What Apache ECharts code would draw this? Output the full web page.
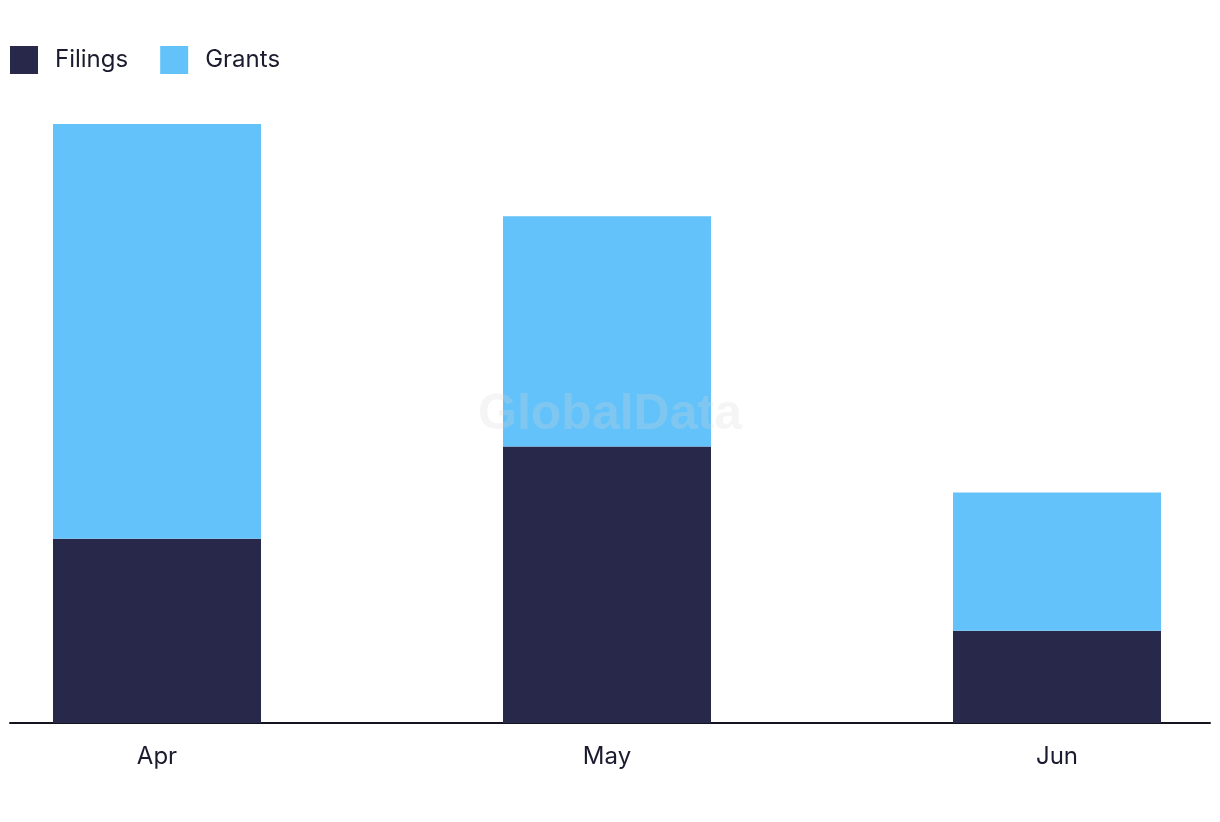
<!DOCTYPE html>
<html>
<head>
<meta charset="utf-8">
<script src="https://cdn.jsdelivr.net/npm/echarts@6/dist/echarts.min.js"></script>
<style>html,body{margin:0;padding:0;background:#fff}#c{width:1220px;height:822px}</style>
</head>
<body>
<div id="c"></div>
<script>
const categories = ['Apr', 'May', 'Jun'];
const filings = [4, 6, 2];
const grants = [9, 5, 3];
const seriesNames = ['Filings', 'Grants'];

const chart = echarts.init(document.getElementById('c'));
const font = 'Inter, "Noto Sans", sans-serif';
chart.setOption({
  animation: false,
  backgroundColor: '#fff',
  legend: {
    left: 10, top: 46, padding: 0, itemWidth: 28, itemHeight: 28, itemGap: 32, icon: 'rect',
    data: seriesNames,
    textStyle: { fontFamily: font, fontSize: 24, color: '#1b1b2f', padding: [0, 0, 0, 12] }
  },
  grid: [
    { left: -68, right: -62, top: 124, bottom: 99, outerBoundsMode: 'none', containLabel: false },
    { left: 10, right: 10, top: 124, bottom: 99, outerBoundsMode: 'none', containLabel: false }
  ],
  xAxis: [
    { type: 'category', gridIndex: 0, data: categories,
      axisLine: { show: false }, axisTick: { show: false },
      axisLabel: { fontFamily: font, fontSize: 24, color: '#1b1b2f', margin: 22 } },
    { type: 'category', gridIndex: 1, data: categories,
      axisLine: { show: true, lineStyle: { color: '#14141f', width: 2 } },
      axisTick: { show: false }, axisLabel: { show: false } }
  ],
  yAxis: [
    { type: 'value', gridIndex: 0, min: 0, max: 13, show: false, splitLine: { show: false } },
    { type: 'value', gridIndex: 1, min: 0, max: 13, show: false, splitLine: { show: false } }
  ],
  series: [
    { name: seriesNames[0], type: 'bar', stack: 'total', data: filings, barWidth: 208,
      itemStyle: { color: '#28284b' } },
    { name: seriesNames[1], type: 'bar', stack: 'total', data: grants, barWidth: 208,
      itemStyle: { color: '#62c2f9' } }
  ],
  graphic: [
    { type: 'text', left: 'center', top: 390, z: 100, silent: true,
      style: { text: 'GlobalData', fontFamily: '"Liberation Sans", Arial, sans-serif', fontWeight: 'bold', fontSize: 50,
        fill: 'rgba(215,215,215,0.25)' } }
  ]
});
</script>
</body>
</html>
